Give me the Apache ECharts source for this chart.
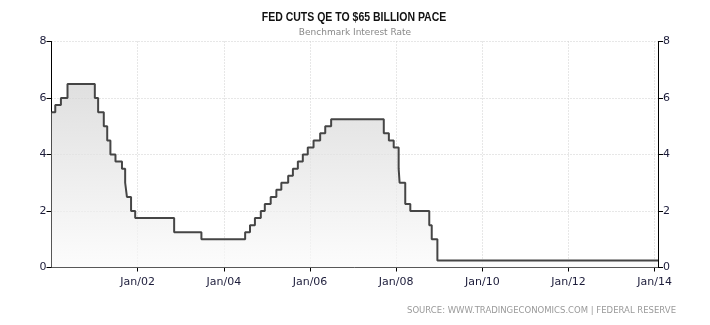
<!DOCTYPE html>
<html>
<head>
<meta charset="utf-8">
<script src="https://cdn.jsdelivr.net/npm/echarts@6/dist/echarts.min.js"></script>
<style>html,body{margin:0;padding:0;background:#fff;}#c{width:710px;height:325px;}</style>
</head>
<body>
<div id="c"></div>
<script>
// Benchmark (Fed funds target) rate change dates and levels
const changeDates = ['2000-01-01','2000-02-02','2000-03-21','2000-05-16','2001-01-03','2001-01-31','2001-03-20','2001-04-18','2001-05-15','2001-06-27','2001-08-21','2001-09-17','2001-10-02','2001-11-06','2001-12-11','2002-11-06','2003-06-25','2004-06-30','2004-08-10','2004-09-21','2004-11-10','2004-12-14','2005-02-02','2005-03-22','2005-05-03','2005-06-30','2005-08-09','2005-09-20','2005-11-01','2005-12-13','2006-01-31','2006-03-28','2006-05-10','2006-06-29','2007-09-18','2007-10-31','2007-12-11','2008-01-22','2008-01-30','2008-03-18','2008-04-30','2008-10-08','2008-10-29','2008-12-16','2014-01-29'];
const rateValues = [5.5,5.75,6.0,6.5,6.0,5.5,5.0,4.5,4.0,3.75,3.5,3.0,2.5,2.0,1.75,1.25,1.0,1.25,1.5,1.75,2.0,2.25,2.5,2.75,3.0,3.25,3.5,3.75,4.0,4.25,4.5,4.75,5.0,5.25,4.75,4.5,4.25,3.5,3.0,2.25,2.0,1.5,1.0,0.25,0.25];
const xTickYears = [2002,2004,2006,2008,2010,2012,2014];
const yTicks = [0,2,4,6,8];
const titleText = 'FED CUTS QE TO $65 BILLION PACE';
const subtitleText = 'Benchmark Interest Rate';
const sourceText = 'SOURCE: WWW.TRADINGECONOMICS.COM | FEDERAL RESERVE';

function toYear(s) {
  const d = new Date(s + 'T00:00:00Z');
  const y = d.getUTCFullYear();
  const start = Date.UTC(y, 0, 1), end = Date.UTC(y + 1, 0, 1);
  return y + (d.getTime() - start) / (end - start);
}
const seriesData = changeDates.map((d, i) => [toYear(d), rateValues[i]]);
const xMin = toYear(changeDates[0]);
const xMax = toYear(changeDates[changeDates.length - 1]);

const labelColor = '#1c1c3a';
const yAxisCommon = {
  type: 'value', min: yTicks[0], max: yTicks[yTicks.length - 1], interval: 2,
  axisLine: { show: true, lineStyle: { color: '#000', width: 1 } },
  axisTick: { show: true, length: 5, lineStyle: { color: '#000' } },
  axisLabel: { color: labelColor, fontFamily: 'DejaVu Sans', fontSize: 11, margin: 5 }
};

const chart = echarts.init(document.getElementById('c'), null, { renderer: 'canvas' });
chart.setOption({
  animation: false,
  backgroundColor: '#fff',
  title: [
    { text: subtitleText, left: 'center', top: 28, padding: 0,
      textStyle: { fontFamily: 'DejaVu Sans', fontWeight: 'normal', fontSize: 9, color: '#888' } },
    { text: sourceText, right: 34, top: 306, padding: 0,
      textStyle: { fontFamily: 'DejaVu Sans', fontWeight: 'normal', fontSize: 8.5, color: '#9a9a9a' } }
  ],
  graphic: [{
    type: 'text', x: 354, y: 18, scaleX: 0.84,
    style: { text: titleText, textAlign: 'center', textVerticalAlign: 'middle',
      font: 'bold 12.5px "Liberation Sans"', fill: '#111' }
  }],
  grid: { left: 51.5, right: 52, top: 41.5, bottom: 57.5, containLabel: false },
  xAxis: {
    type: 'value', min: xMin, max: xMax, interval: 2,
    axisLine: { show: true, onZero: false, lineStyle: { color: '#000', width: 1 } },
    axisTick: { show: true, length: 4, lineStyle: { color: '#000' }, customValues: xTickYears },
    axisLabel: { color: labelColor, fontFamily: 'DejaVu Sans', fontSize: 11, margin: 9,
      customValues: xTickYears,
      formatter: v => 'Jan/' + String(Math.round(v) % 100).padStart(2, '0') },
    splitLine: { show: true, lineStyle: { color: '#cfcfcf', type: [1, 2], width: 1 } }
  },
  yAxis: [
    Object.assign({}, yAxisCommon, { position: 'left',
      splitLine: { show: true, lineStyle: { color: '#cfcfcf', type: [1, 2], width: 1 } } }),
    Object.assign({}, yAxisCommon, { position: 'right', splitLine: { show: false } })
  ],
  series: [{
    type: 'line', step: 'end', data: seriesData, showSymbol: false, symbol: 'none',
    lineStyle: { color: '#454545', width: 2 },
    areaStyle: {
      color: new echarts.graphic.LinearGradient(0, 0, 0, 1, [
        { offset: 0, color: '#d2d2d2' }, { offset: 1, color: '#fbfbfb' }
      ])
    },
    z: 3
  }]
});
</script>
</body>
</html>
